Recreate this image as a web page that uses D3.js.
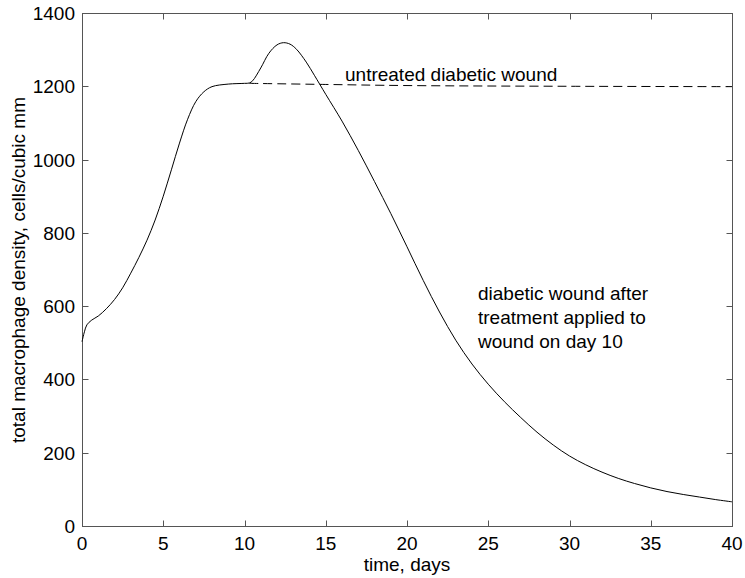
<!DOCTYPE html>
<html><head><meta charset="utf-8">
<script src="https://cdn.jsdelivr.net/npm/d3@7"></script>
<style>body{margin:0;background:#fff}svg{display:block}text{font-family:"Liberation Sans",Arial,Helvetica,sans-serif;fill:#000}</style>
</head><body>
<svg id="c" width="745" height="578"></svg>
<script>
const xTicks = [0,5,10,15,20,25,30,35,40];
const yTicks = [0,200,400,600,800,1000,1200,1400];
const treatedT = [0,0.15,0.3,0.6,1,1.5,2,2.5,3,3.5,4,4.5,5,5.5,6,6.5,7,7.5,8,9,10,10.3,10.5,11,11.5,12,12.4,12.8,13.2,13.8,14.3,15,16,17,18,19,20,21,22,23,24,25,26,27,28,29,30,31,32,33,34,35,36,37,38,39,40];
const treatedV = [503,530,549,562,573,593,618,650,690,733,780,835,900,972,1045,1110,1158,1185,1199,1206,1208,1209,1215,1250,1290,1313,1319,1315,1301,1266,1230,1178,1105,1025,940,853,762,670,584,507,442,387,339,296,256,221,191,167,147,130,116,104,94,86,79,72,66];
const untreatedT = [10.3,15,20,30,40];
const untreatedV = [1208,1205,1202,1200,1199];

const svg = d3.select("#c");
const L=82,R=732,T=13,B=526;
const x = d3.scaleLinear().domain([0,40]).range([L,R]);
const y = d3.scaleLinear().domain([0,1400]).range([B,T]);
const axc="#555";
const g = svg.append("g");
g.append("rect").attr("x",L+0.5).attr("y",T+0.5).attr("width",R-L).attr("height",B-T).attr("fill","none").attr("stroke",axc).attr("stroke-width",1);
const tl=6;
xTicks.forEach(t=>{
  const px=Math.round(x(t))+0.5;
  g.append("line").attr("x1",px).attr("x2",px).attr("y1",B+0.5).attr("y2",B+0.5-tl).attr("stroke",axc);
  g.append("line").attr("x1",px).attr("x2",px).attr("y1",T+0.5).attr("y2",T+0.5+tl).attr("stroke",axc);
  g.append("text").attr("x",x(t)).attr("y",B+24).attr("text-anchor","middle").attr("font-size",19).text(t);
});
yTicks.forEach(v=>{
  const py=Math.round(y(v))+0.5;
  g.append("line").attr("x1",L+0.5).attr("x2",L+0.5+tl).attr("y1",py).attr("y2",py).attr("stroke",axc);
  g.append("line").attr("x1",R+0.5).attr("x2",R+0.5-tl).attr("y1",py).attr("y2",py).attr("stroke",axc);
  g.append("text").attr("x",L-7).attr("y",y(v)+7).attr("text-anchor","end").attr("font-size",19).text(v);
});
const line = d3.line().x(d=>x(d[0])).y(d=>y(d[1])).curve(d3.curveCatmullRom.alpha(0.5));
svg.append("path").attr("d",line(untreatedT.map((t,i)=>[t,untreatedV[i]]))).attr("fill","none").attr("stroke","#000").attr("stroke-width",1).attr("stroke-dasharray","9,5");
svg.append("path").attr("d",line(treatedT.map((t,i)=>[t,treatedV[i]]))).attr("fill","none").attr("stroke","#000").attr("stroke-width",1);
svg.append("text").attr("x",407).attr("y",571).attr("text-anchor","middle").attr("font-size",19).text("time, days");
svg.append("text").attr("transform","translate(25,270) rotate(-90)").attr("text-anchor","middle").attr("font-size",19).text("total macrophage density, cells/cubic mm");
svg.append("text").attr("x",345).attr("y",81).attr("font-size",19).text("untreated diabetic wound");
const ann=["diabetic wound after","treatment applied to","wound on day 10"];
ann.forEach((s,i)=>svg.append("text").attr("x",478).attr("y",300+i*24).attr("font-size",19).text(s));
</script>
</body></html>
